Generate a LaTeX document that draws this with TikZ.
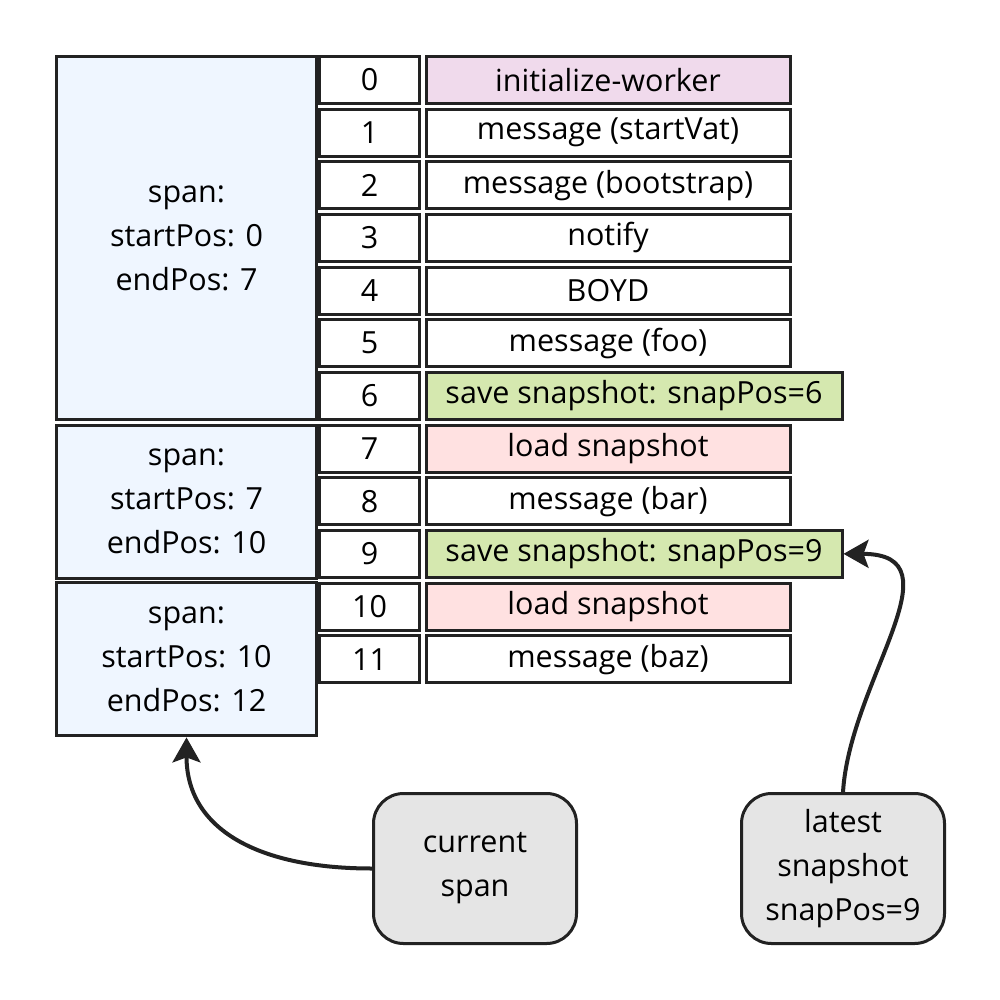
\documentclass[tikz,border=0pt]{standalone}
\usepackage{fontspec}
\setmainfont{Open Sans}
\usetikzlibrary{arrows.meta}

\definecolor{ink}{HTML}{222222}
\definecolor{spanblue}{HTML}{EFF6FF}
\definecolor{initpink}{HTML}{F0DAEC}
\definecolor{loadred}{HTML}{FFE1E1}
\definecolor{savegreen}{HTML}{D5E8AF}
\definecolor{noteg}{HTML}{E5E5E5}

\begin{document}
\begin{tikzpicture}[x=1pt,y=-1pt,
		cell/.style={draw=ink,line width=3pt,inner sep=0pt,minimum height=47pt,
			font=\fontsize{30.5}{44}\selectfont},
		idx/.style={cell,fill=white,minimum width=100pt},
		evt/.style={cell,fill=white,anchor=west,minimum width=364pt},
		save/.style={evt,fill=savegreen,minimum width=416pt},
		spanbox/.style={cell,fill=spanblue,minimum width=260pt,align=center},
		note/.style={cell,fill=noteg,rounded corners=30pt,minimum width=203pt,
			minimum height=150pt,align=center},
		pointer/.style={draw=ink,line width=4pt,-{Stealth[length=25pt,width=28pt,inset=5pt]}}]
		\useasboundingbox (0,0) rectangle (1000,1000);

		% spans
		\node[spanbox,minimum height=363pt] (span0) at (186.5,238) {span:\\startPos: 0\\endPos: 7};
		\node[spanbox,minimum height=153pt] (span1) at (186.5,501.5) {span:\\startPos: 7\\endPos: 10};
		\node[spanbox,minimum height=153pt] (span2) at (186.5,659.4) {span:\\startPos: 10\\endPos: 12};

		% transcript entries
		\node[idx] (n0) at (369.5,80) {0};
		\node[evt,fill=initpink] (e0) at (424.5,80) {initialize-worker};
		\node[idx] (n1) at (369.5,132.65) {1};
		\node[evt] (e1) at (424.5,132.65) {message (startVat)};
		\node[idx] (n2) at (369.5,185.3) {2};
		\node[evt] (e2) at (424.5,185.3) {message (bootstrap)};
		\node[idx] (n3) at (369.5,237.95) {3};
		\node[evt] (e3) at (424.5,237.95) {notify};
		\node[idx] (n4) at (369.5,290.6) {4};
		\node[evt] (e4) at (424.5,290.6) {BOYD};
		\node[idx] (n5) at (369.5,343.25) {5};
		\node[evt] (e5) at (424.5,343.25) {message (foo)};
		\node[idx] (n6) at (369.5,395.9) {6};
		\node[save] (e6) at (424.5,395.9) {save snapshot: snapPos=6};
		\node[idx] (n7) at (369.5,448.55) {7};
		\node[evt,fill=loadred] (e7) at (424.5,448.55) {load snapshot};
		\node[idx] (n8) at (369.5,501.2) {8};
		\node[evt] (e8) at (424.5,501.2) {message (bar)};
		\node[idx] (n9) at (369.5,553.85) {9};
		\node[save] (e9) at (424.5,553.85) {save snapshot: snapPos=9};
		\node[idx] (n10) at (369.5,606.5) {10};
		\node[evt,fill=loadred] (e10) at (424.5,606.5) {load snapshot};
		\node[idx] (n11) at (369.5,659.15) {11};
		\node[evt] (e11) at (424.5,659.15) {message (baz)};

		% pointers
		\node[note] (current) at (475,868.5) {current\\span};
		\node[note] (latest) at (843,868.5) {latest\\snapshot\\snapPos=9};
		\draw[pointer] (current.west) .. controls +(-112,0) and +(0,93) .. (span2.south);
		\draw[pointer] (latest.north) .. controls +(7,-112) and +(118,0) .. (e9.east);
	\end{tikzpicture}
\end{document}
